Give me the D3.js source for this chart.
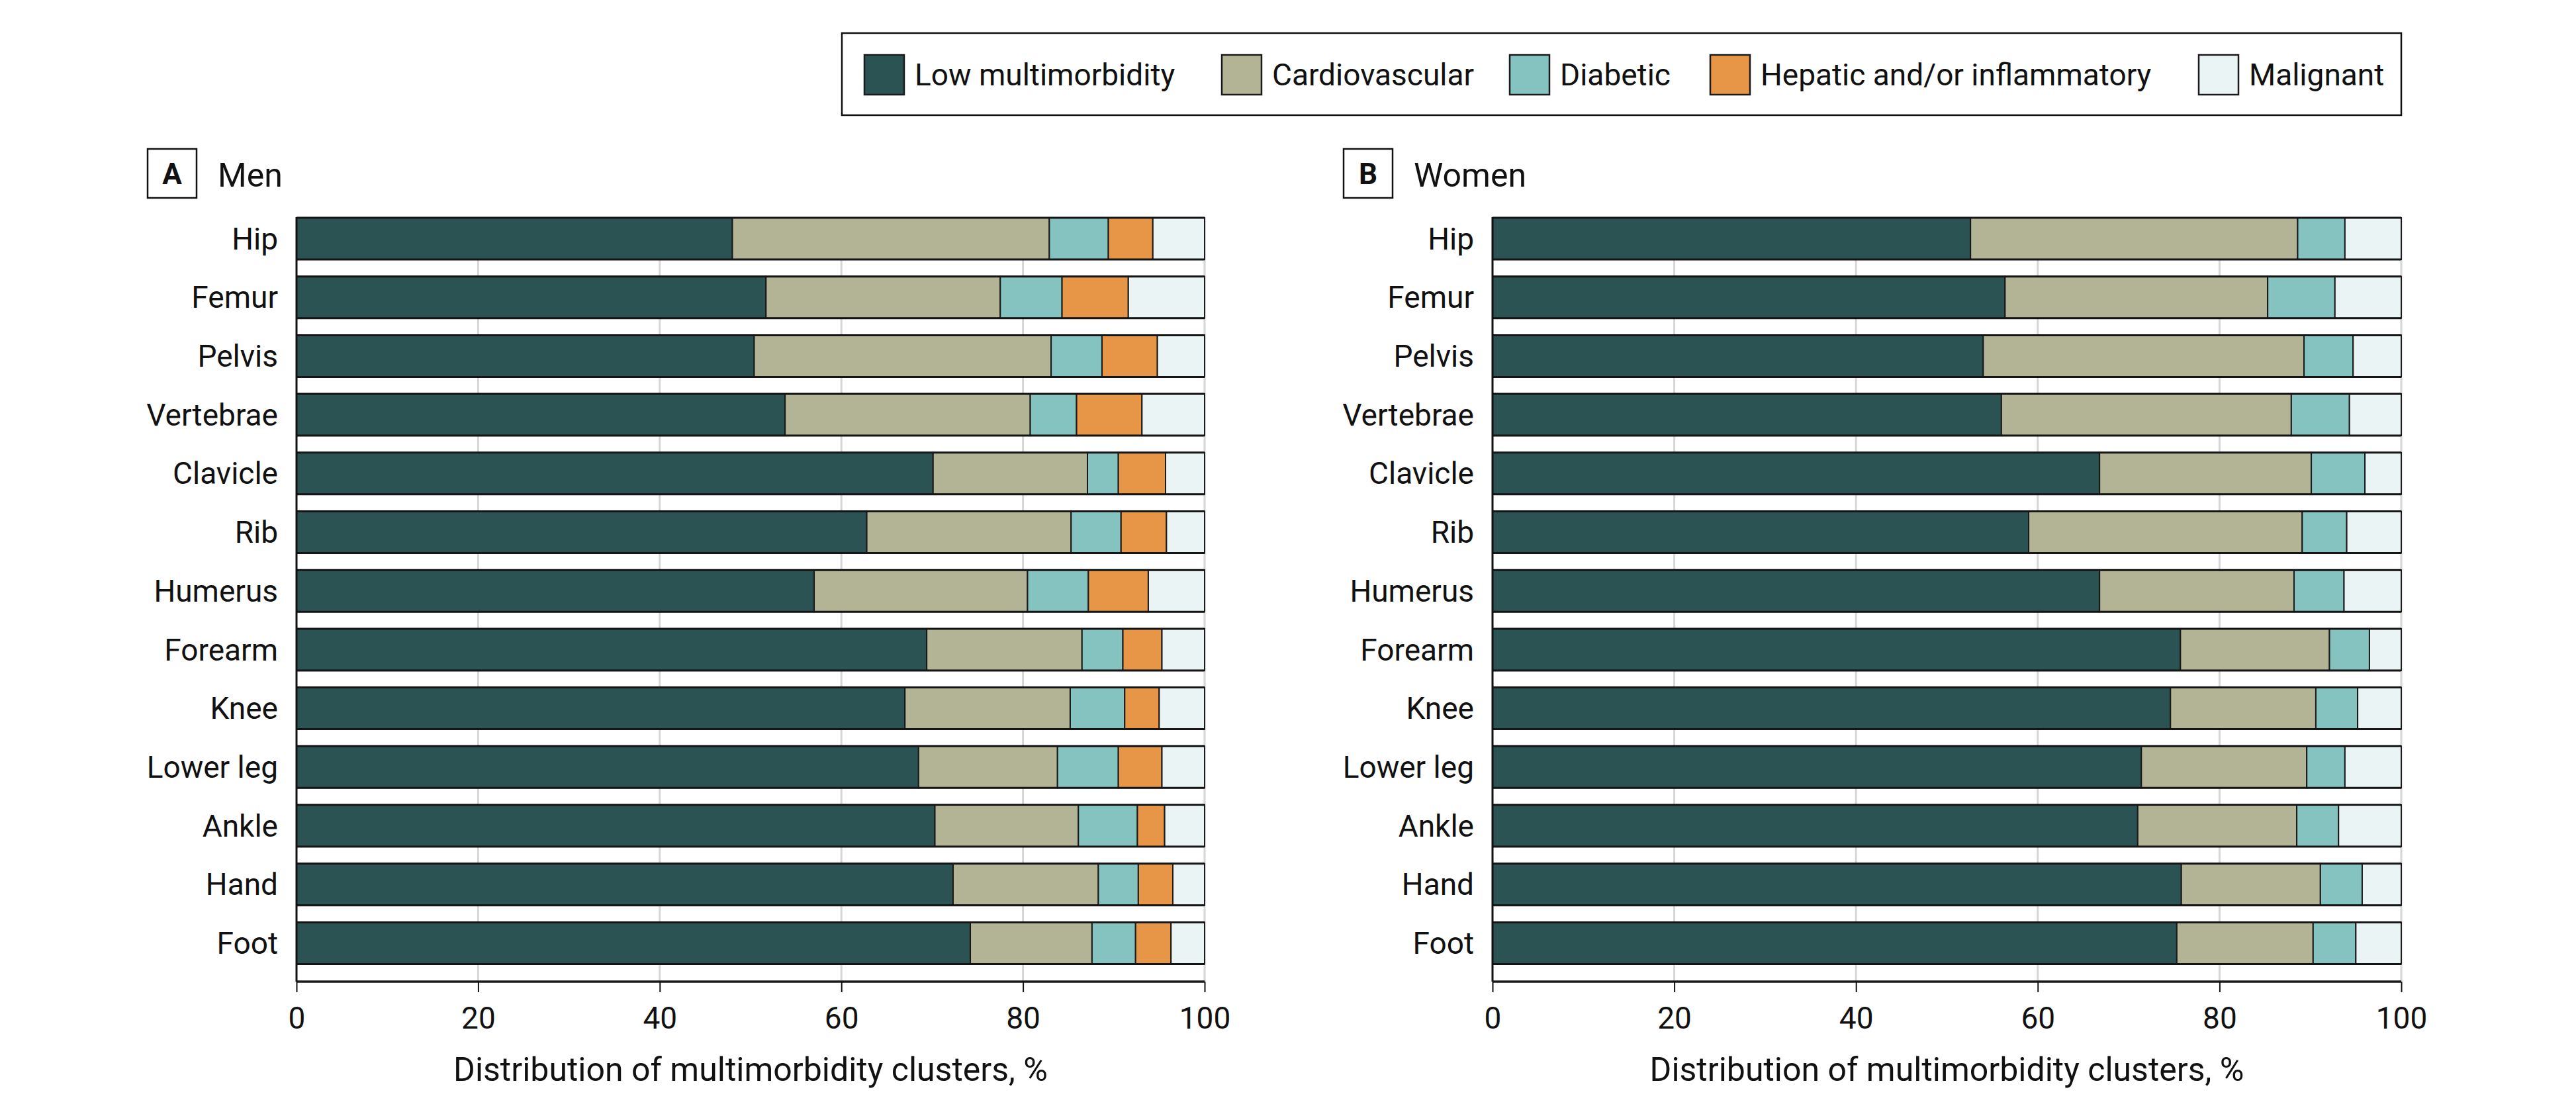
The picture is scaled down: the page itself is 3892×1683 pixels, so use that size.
<!DOCTYPE html>
<html>
<head>
<meta charset="utf-8">
<script src="https://cdn.jsdelivr.net/npm/d3@7"></script>
<style>
  html, body { margin: 0; padding: 0; background: #fff; }
  svg text { font-family: Roboto, "Liberation Sans", sans-serif; fill: #111; }
</style>
</head>
<body>
<svg id="chart" width="3892" height="1683"></svg>
<script>
// ---------- DATA ----------
const sites = ["Hip", "Femur", "Pelvis", "Vertebrae", "Clavicle", "Rib", "Humerus",
               "Forearm", "Knee", "Lower leg", "Ankle", "Hand", "Foot"];
const clusters = ["Low multimorbidity", "Cardiovascular", "Diabetic", "Hepatic and/or inflammatory", "Malignant"];
const xTicks = [0, 20, 40, 60, 80, 100];

// Men (%)
const menLow       = [48.0, 51.7, 50.4, 53.8, 70.1, 62.8, 57.0, 69.4, 67.0, 68.5, 70.3, 72.3, 74.2];
const menCardio    = [34.9, 25.8, 32.7, 27.0, 17.0, 22.5, 23.5, 17.1, 18.2, 15.3, 15.8, 16.0, 13.4];
const menDiabetic  = [ 6.5,  6.8,  5.6,  5.1,  3.4,  5.5,  6.7,  4.5,  6.0,  6.7,  6.5,  4.4,  4.8];
const menHepatic   = [ 4.9,  7.3,  6.1,  7.2,  5.2,  5.0,  6.6,  4.3,  3.8,  4.8,  3.0,  3.8,  3.9];
const menMalignant = [ 5.7,  8.4,  5.2,  6.9,  4.3,  4.2,  6.2,  4.7,  5.0,  4.7,  4.4,  3.5,  3.7];

// Women (%)
const womenLow       = [52.6, 56.4, 54.0, 56.0, 66.8, 59.0, 66.8, 75.7, 74.6, 71.4, 71.0, 75.8, 75.3];
const womenCardio    = [36.0, 28.9, 35.3, 31.9, 23.3, 30.1, 21.4, 16.4, 16.0, 18.2, 17.5, 15.3, 15.0];
const womenDiabetic  = [ 5.2,  7.4,  5.4,  6.4,  5.9,  4.9,  5.5,  4.4,  4.6,  4.2,  4.6,  4.6,  4.7];
const womenHepatic   = [ 0,    0,    0,    0,    0,    0,    0,    0,    0,    0,    0,    0,    0  ];
const womenMalignant = [ 6.2,  7.3,  5.3,  5.7,  4.0,  6.0,  6.3,  3.5,  4.8,  6.2,  6.9,  4.3,  5.0];

// ---------- STYLE ----------
const colors = ["#2b5353", "#b3b395", "#85c3c1", "#e69646", "#eaf4f4"];
const color = d3.scaleOrdinal().domain(clusters).range(colors);

const svg = d3.select("#chart");

function buildRows(series) {
  return sites.map((s, i) => {
    const row = { site: s };
    clusters.forEach((c, k) => { row[c] = series[k][i]; });
    return row;
  });
}

const panels = [
  { letter: "A", title: "Men", x0: 448, x1: 1820,
    rows: buildRows([menLow, menCardio, menDiabetic, menHepatic, menMalignant]) },
  { letter: "B", title: "Women", x0: 2255, x1: 3628,
    rows: buildRows([womenLow, womenCardio, womenDiabetic, womenHepatic, womenMalignant]) }
];

const plotTop = 329, plotBottom = 1483;

panels.forEach(p => {
  const g = svg.append("g");
  const x = d3.scaleLinear().domain([0, 100]).range([p.x0, p.x1]);
  const y = d3.scaleBand().domain(sites).range([plotTop, plotBottom])
              .paddingInner(0.29).paddingOuter(0.15).align(0);

  // gridlines
  g.append("g").selectAll("line").data(xTicks.filter(t => t > 0)).join("line")
    .attr("x1", d => x(d)).attr("x2", d => x(d))
    .attr("y1", plotTop).attr("y2", plotBottom)
    .attr("stroke", "#d6d6d6").attr("stroke-width", 3);

  // stacked bars
  const stack = d3.stack().keys(clusters)(p.rows);
  const layers = g.append("g").selectAll("g").data(stack).join("g")
    .attr("fill", d => color(d.key));
  layers.selectAll("rect")
    .data(d => d.filter(s => s[1] - s[0] > 0))
    .join("rect")
    .attr("x", d => x(d[0]))
    .attr("width", d => x(d[1]) - x(d[0]))
    .attr("y", d => y(d.data.site))
    .attr("height", y.bandwidth())
    .attr("stroke", "#1a1a1a").attr("stroke-width", 2);

  // heavier top/bottom edges of each bar
  g.append("g").selectAll("path").data(sites).join("path")
    .attr("d", s => `M${x(0)},${y(s)}H${x(100)}M${x(0)},${y(s) + y.bandwidth()}H${x(100)}`)
    .attr("stroke", "#151515").attr("stroke-width", 3).attr("fill", "none");

  // y axis (labels only + line)
  const yAxis = g.append("g").attr("transform", `translate(${x(0)},0)`)
    .call(d3.axisLeft(y).tickSize(0).tickPadding(28));
  yAxis.select(".domain").remove();
  yAxis.selectAll("text").attr("font-size", 46).attr("dy", "0.35em")
    .style("font-family", "Roboto, 'Liberation Sans', sans-serif").attr("fill", "#111");
  g.append("line").attr("x1", x(0)).attr("x2", x(0))
    .attr("y1", plotTop - 1).attr("y2", plotBottom)
    .attr("stroke", "#111").attr("stroke-width", 3);

  // x axis
  const xAxis = g.append("g").attr("transform", `translate(0,${plotBottom})`)
    .call(d3.axisBottom(x).tickValues(xTicks).tickSize(16).tickPadding(22).tickFormat(d3.format("d")));
  xAxis.select(".domain").attr("stroke", "#1a1a1a").attr("stroke-width", 3.5)
    .attr("d", `M${x(0)},0H${x(100)}`);
  xAxis.selectAll(".tick line").attr("stroke", "#111").attr("stroke-width", 2);
  xAxis.selectAll("text").attr("font-size", 46)
    .style("font-family", "Roboto, 'Liberation Sans', sans-serif").attr("fill", "#111");

  g.append("text")
    .attr("x", (x(0) + x(100)) / 2).attr("y", 1633)
    .attr("text-anchor", "middle").attr("font-size", 50)
    .text("Distribution of multimorbidity clusters, %");

  // panel heading
  const bx = x(0) - 225;
  g.append("rect").attr("x", bx).attr("y", 225).attr("width", 74).attr("height", 74)
    .attr("fill", "#fff").attr("stroke", "#111").attr("stroke-width", 2.5);
  g.append("text").attr("x", bx + 37).attr("y", 278).attr("text-anchor", "middle")
    .attr("font-size", 44).attr("font-weight", 700).text(p.letter);
  g.append("text").attr("x", bx + 106).attr("y", 282).attr("font-size", 50).text(p.title);
});

// ---------- LEGEND ----------
const legendG = svg.append("g");
legendG.append("rect").attr("x", 1272).attr("y", 50).attr("width", 3628 - 1272).attr("height", 124)
  .attr("fill", "#fff").attr("stroke", "#111").attr("stroke-width", 2.5);
const legendX = [1306, 1846, 2281, 2584, 3322];
const items = legendG.selectAll("g.item").data(clusters).join("g")
  .attr("class", "item")
  .attr("transform", (d, i) => `translate(${legendX[i]},83)`);
items.append("rect").attr("width", 60).attr("height", 60)
  .attr("fill", d => color(d)).attr("stroke", "#1a1a1a").attr("stroke-width", 2.5);
items.append("text").attr("x", 76).attr("y", 46).attr("font-size", 46).text(d => d);
</script>
</body>
</html>
